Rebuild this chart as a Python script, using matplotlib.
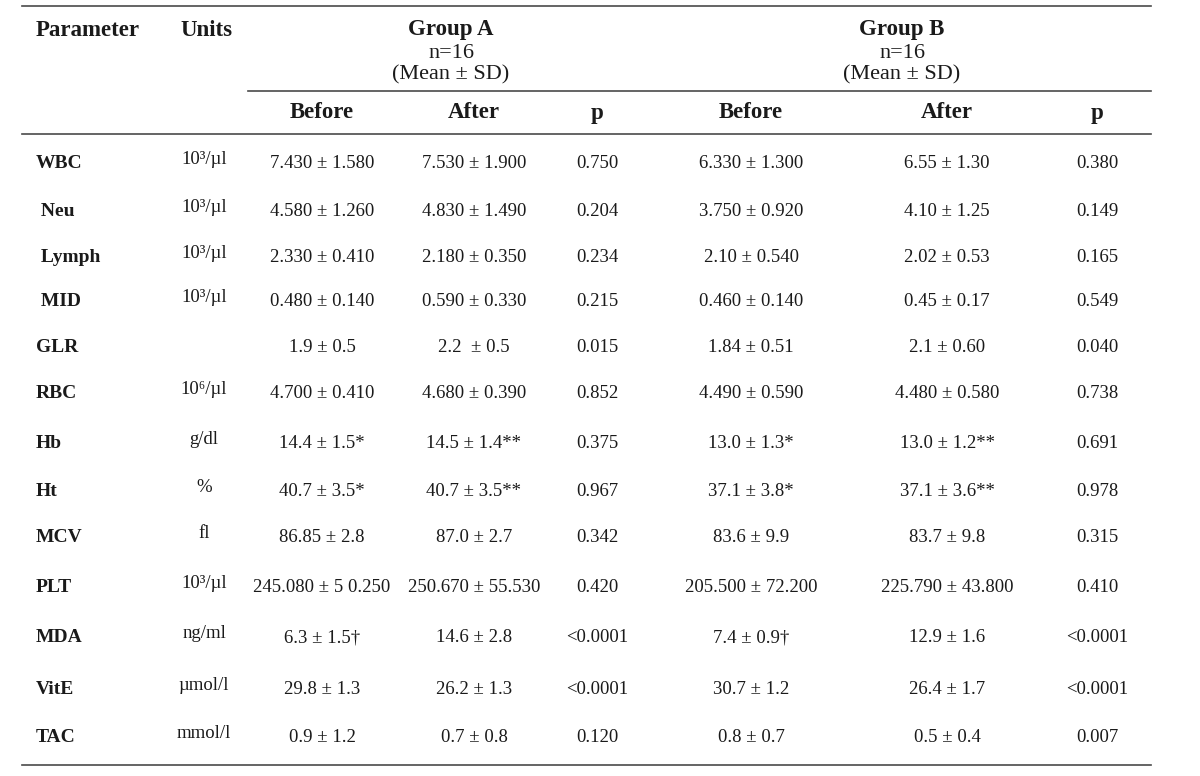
import matplotlib
matplotlib.use("Agg")
import matplotlib.pyplot as plt

# ---- data ----
params = ["WBC", " Neu", " Lymph", " MID", "GLR", "RBC", "Hb", "Ht", "MCV", "PLT", "MDA", "VitE", "TAC"]
units = ["10³/µl", "10³/µl", "10³/µl", "10³/µl", "", "10⁶/µl", "g/dl", "%", "fl", "10³/µl", "ng/ml", "µmol/l", "mmol/l"]
a_before = ["7.430 ± 1.580", "4.580 ± 1.260", "2.330 ± 0.410", "0.480 ± 0.140", "1.9 ± 0.5",
            "4.700 ± 0.410", "14.4 ± 1.5*", "40.7 ± 3.5*", "86.85 ± 2.8", "245.080 ± 5 0.250",
            "6.3 ± 1.5†", "29.8 ± 1.3", "0.9 ± 1.2"]
a_after = ["7.530 ± 1.900", "4.830 ± 1.490", "2.180 ± 0.350", "0.590 ± 0.330", "2.2  ± 0.5",
           "4.680 ± 0.390", "14.5 ± 1.4**", "40.7 ± 3.5**", "87.0 ± 2.7", "250.670 ± 55.530",
           "14.6 ± 2.8", "26.2 ± 1.3", "0.7 ± 0.8"]
a_p = ["0.750", "0.204", "0.234", "0.215", "0.015", "0.852", "0.375", "0.967", "0.342", "0.420",
       "<0.0001", "<0.0001", "0.120"]
b_before = ["6.330 ± 1.300", "3.750 ± 0.920", "2.10 ± 0.540", "0.460 ± 0.140", "1.84 ± 0.51",
            "4.490 ± 0.590", "13.0 ± 1.3*", "37.1 ± 3.8*", "83.6 ± 9.9", "205.500 ± 72.200",
            "7.4 ± 0.9†", "30.7 ± 1.2", "0.8 ± 0.7"]
b_after = ["6.55 ± 1.30", "4.10 ± 1.25", "2.02 ± 0.53", "0.45 ± 0.17", "2.1 ± 0.60",
           "4.480 ± 0.580", "13.0 ± 1.2**", "37.1 ± 3.6**", "83.7 ± 9.8", "225.790 ± 43.800",
           "12.9 ± 1.6", "26.4 ± 1.7", "0.5 ± 0.4"]
b_p = ["0.380", "0.149", "0.165", "0.549", "0.040", "0.738", "0.691", "0.978", "0.315", "0.410",
       "<0.0001", "<0.0001", "0.007"]
groups = ["Group A", "Group B"]
group_n = "n=16"
group_stat = "(Mean ± SD)"
sub_headers = ["Before", "After", "p"]

# ---- layout ----
W, H = 1200, 776
fig = plt.figure(figsize=(W / 100, H / 100), dpi=100)
ax = fig.add_axes([0, 0, 1, 1])
ax.set_xlim(0, W)
ax.set_ylim(H, 0)
ax.axis("off")

FAM = ["Liberation Serif", "DejaVu Serif"]
TXT = "#1a1a1a"
LINE = "#4a4a4a"

row_y = [164, 212, 257, 302, 348, 394, 444, 491, 538, 588, 638, 689, 738]
x_param = 36
x_unit = 204
col_x = [322, 474, 597, 751, 947, 1097]

# rules
ax.plot([22, 1151], [6, 6], color=LINE, lw=1.2)
ax.plot([248, 1151], [91, 91], color=LINE, lw=1.2)
ax.plot([22, 1151], [134, 134], color=LINE, lw=1.2)
ax.plot([22, 1151], [765, 765], color=LINE, lw=1.2)

# header
ax.text(x_param, 30, "Parameter", fontsize=16.5, fontweight="bold", family=FAM, color=TXT, ha="left", va="center")
ax.text(180, 30, "Units", fontsize=16.5, fontweight="bold", family=FAM, color=TXT, ha="left", va="center")
for g, gx in zip(groups, [451, 902]):
    ax.text(gx, 30, g, fontsize=16.5, fontweight="bold", family=FAM, color=TXT, ha="center", va="center")
    ax.text(gx, 53, group_n, fontsize=16, family=FAM, color=TXT, ha="center", va="center")
    ax.text(gx, 75, group_stat, fontsize=16, family=FAM, color=TXT, ha="center", va="center")
for i, cx in enumerate(col_x):
    ax.text(cx, 113, sub_headers[i % 3], fontsize=16.5, fontweight="bold", family=FAM, color=TXT,
            ha="center", va="center")

# body
cols = [a_before, a_after, a_p, b_before, b_after, b_p]
for r, y in enumerate(row_y):
    ax.text(x_param, y, params[r], fontsize=14, fontweight="bold", family=FAM, color=TXT, ha="left", va="center")
    ax.text(x_unit, y - 4, units[r], fontsize=13.5, family=FAM, color=TXT, ha="center", va="center")
    for c, cx in enumerate(col_x):
        ax.text(cx, y, cols[c][r], fontsize=13.5, family=FAM, color=TXT, ha="center", va="center")

fig.savefig("out.png", dpi=100, facecolor="white")
